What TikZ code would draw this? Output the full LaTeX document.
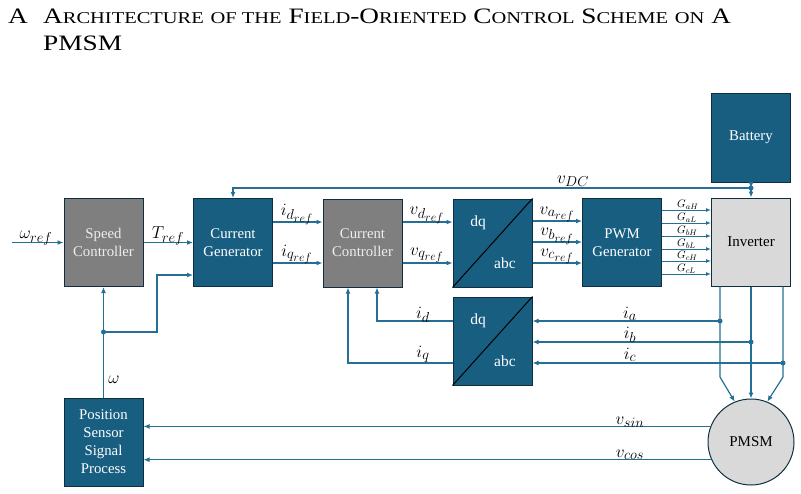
\documentclass[tikz,border=0pt]{standalone}
\usepackage{fontspec}
\setmainfont{Liberation Serif}
\usetikzlibrary{arrows.meta,calc}
\definecolor{boxblue}{HTML}{175E81}
\definecolor{lineblue}{HTML}{246F95}
\definecolor{edgecol}{HTML}{0E2F40}
\definecolor{boxgray}{HTML}{7F7F7F}
\definecolor{invgray}{HTML}{D9D9D9}
\definecolor{lighttxt}{HTML}{EEEEEE}
\DeclareMathSizes{18.5}{18.5}{14}{12}
\DeclareMathSizes{10.5}{10.5}{8}{6}
\newcommand\mysc[2]{#1{\fontsize{16.5}{18}\selectfont #2}}
\begin{document}
\begin{tikzpicture}[x=1pt,y=-1pt,
 blk/.style={draw=edgecol,line width=1pt,minimum width=79pt,minimum height=88pt,inner sep=0pt,align=center,font=\rmfamily\fontsize{14.8}{18}\selectfont},
 bluebox/.style={blk,fill=boxblue,text=white},
 graybox/.style={blk,fill=boxgray,text=lighttxt},
 arr/.style={draw=lineblue,line width=1.2pt,-{Latex[length=6pt,width=5pt]}},
 garr/.style={draw=lineblue,line width=1pt,-{Latex[length=5pt,width=4pt]}},
 lbl/.style={font=\fontsize{18.5}{20}\selectfont,anchor=base,inner sep=0pt},
 glbl/.style={font=\fontsize{10.5}{12}\selectfont,anchor=base west,inner sep=0pt},
 dot/.style={circle,fill=lineblue,inner sep=0pt,minimum size=5pt},
 ttl/.style={anchor=base west,inner sep=0pt,font=\fontsize{22}{26}\selectfont},
 dqtxt/.style={text=white,font=\rmfamily\fontsize{15.5}{17}\selectfont},
]
\useasboundingbox (0,0) rectangle (801,493);
% title
\node[ttl] (t0) at (8,23) {\scalebox{1.24}[1]{A}};
\node[ttl] (t1) at (43,23) {\scalebox{1.24}[1]{\mysc{A}{RCHITECTURE} \mysc{}{OF THE} \mysc{F}{IELD}-\mysc{O}{RIENTED} \mysc{C}{ONTROL} \mysc{S}{CHEME} \mysc{}{ON} A}};
\node[ttl] (t2) at (43,50) {\scalebox{1.24}[1]{PMSM}};
% blocks
\node[graybox] (spd) at (103.5,242.5) {Speed\\Controller};
\node[bluebox] (cg) at (233,242.5) {Current\\Generator};
\node[graybox] (cc) at (362.5,243) {Current\\Controller};
\node[bluebox] (dq1) at (492.5,243) {};
\node[bluebox] (pwm) at (622,242.5) {PWM\\Generator};
\node[blk,fill=invgray,text=black,font=\rmfamily\fontsize{15}{17}\selectfont] (inv) at (751,242) {Inverter};
\node[bluebox,minimum height=89pt] (bat) at (751,137.5) {Battery};
\node[bluebox] (dq2) at (492.5,341) {};
\node[bluebox] (pos) at (103.5,442) {Position\\Sensor\\Signal\\Process};
\node[circle,draw=edgecol,line width=1pt,fill=invgray,minimum size=86pt,inner sep=0pt,font=\rmfamily\fontsize{15}{17}\selectfont] (pm) at (751,442) {PMSM};
% dq/abc
\draw[black,line width=1pt] (dq1.south west) -- (dq1.north east);
\draw[black,line width=1pt] (dq2.south west) -- (dq2.north east);
\node[dqtxt] (dq1a) at ($(dq1.center)+(-14.5,-20)$) {dq};
\node[dqtxt] (dq1b) at ($(dq1.center)+(12.5,20)$) {abc};
\node[dqtxt] (dq2a) at ($(dq2.center)+(-14.5,-20)$) {dq};
\node[dqtxt] (dq2b) at ($(dq2.center)+(12.5,20)$) {abc};
% forward path
\coordinate (win) at (12,242.5);
\draw[arr] (win) -- (spd.west);
\draw[arr] (spd.east) -- (cg.west);
\draw[arr] (cg.east |- 0,222) -- (cc.west |- 0,222);
\draw[arr] (cg.east |- 0,263) -- (cc.west |- 0,263);
\draw[arr] (cc.east |- 0,222) -- (dq1.west |- 0,222);
\draw[arr] (cc.east |- 0,263) -- (dq1.west |- 0,263);
\foreach \yy in {221,242,263} \draw[arr] (dq1.east |- 0,\yy) -- (pwm.west |- 0,\yy);
\foreach \yy in {210,223,236,249,261,274} \draw[garr] (pwm.east |- 0,\yy) -- (inv.west |- 0,\yy);
% battery / vdc
\coordinate (jdc) at (751,188);
\draw[arr] (bat.south) -- (jdc);
\draw[arr] (jdc) -- (inv.north);
\draw[arr] (jdc) -| (cg.north);
\node[dot] (jdcd) at (jdc) {};
% omega feedback
\coordinate (wj) at (103.5,332);
\coordinate (wk) at (157,332);
\coordinate (wl) at (157,275);
\draw[arr] (pos.north) -- (spd.south);
\draw[arr] (wj) -- (wk) -- (wl) -- (cg.west |- wl);
\node[dot] (wjd) at (wj) {};
% phase currents
\coordinate (ia) at (720,321);
\coordinate (ib) at (751,342);
\coordinate (ic) at (783,363);
\draw[arr] (inv.south -| ia) -- (720,377) -- (pm.112);
\draw[arr] (inv.south -| ib) -- (pm.north);
\draw[arr] (inv.south -| ic) -- (783,377) -- (pm.68);
\draw[arr] (ia) -- (dq2.east |- ia);
\draw[arr] (ib) -- (dq2.east |- ib);
\draw[arr] (ic) -- (dq2.east |- ic);
\node[dot] (iad) at (ia) {};
\node[dot] (ibd) at (ib) {};
\node[dot] (icd) at (ic) {};
% id iq feedback
\coordinate (idc) at (377,321);
\coordinate (iqc) at (348,363);
\draw[arr] (dq2.west |- idc) -- (idc) -- (cc.south -| idc);
\draw[arr] (dq2.west |- iqc) -- (iqc) -- (cc.south -| iqc);
% sensor signals
\draw[arr] (pm.159.6) -- (pos.east |- pm.159.6);
\draw[arr] (pm.204.7) -- (pos.east |- pm.204.7);
% labels
\node[lbl] (l1) at (36,238) {$\omega_{ref}$};
\node[lbl] (l2) at (168,238) {$T_{ref}$};
\node[lbl] (l3) at (297,215) {$i_{d_{ref}}$};
\node[lbl] (l4) at (297,256) {$i_{q_{ref}}$};
\node[lbl] (l5) at (427,214) {$v_{d_{ref}}$};
\node[lbl] (l6) at (427,255) {$v_{q_{ref}}$};
\node[lbl] (l7) at (557,214) {$v_{a_{ref}}$};
\node[lbl] (l8) at (557,235) {$v_{b_{ref}}$};
\node[lbl] (l9) at (557,256) {$v_{c_{ref}}$};
\node[lbl] (l10) at (573,183) {$v_{DC}$};
\node[lbl] (l11) at (423,318) {$i_d$};
\node[lbl] (l12) at (423,357) {$i_q$};
\node[lbl] (l13) at (630,318) {$i_a$};
\node[lbl] (l14) at (630,338) {$i_b$};
\node[lbl] (l15) at (630,359) {$i_c$};
\node[lbl] (l16) at (630,424) {$v_{sin}$};
\node[lbl] (l17) at (630,457) {$v_{cos}$};
\node[lbl] (l18) at (114,383) {$\omega$};
\node[glbl] (g1) at (677,207.5) {$G_{aH}$};
\node[glbl] (g2) at (677,220.5) {$G_{aL}$};
\node[glbl] (g3) at (677,233.5) {$G_{bH}$};
\node[glbl] (g4) at (677,246.5) {$G_{bL}$};
\node[glbl] (g5) at (677,258.5) {$G_{cH}$};
\node[glbl] (g6) at (677,271.5) {$G_{cL}$};
\end{tikzpicture}
\end{document}
